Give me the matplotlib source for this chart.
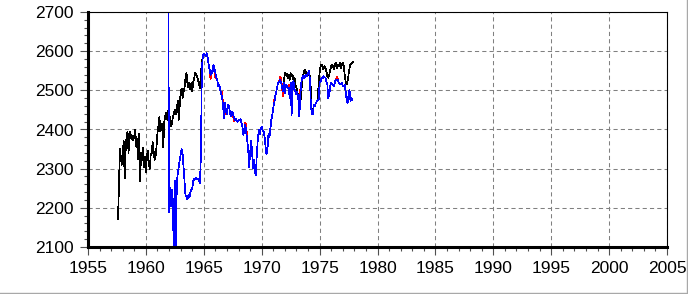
import numpy as np
import matplotlib
matplotlib.use("Agg")
import matplotlib.pyplot as plt
from matplotlib.lines import Line2D
from matplotlib.ticker import MultipleLocator

# ---- monthly series ----
# black series: Aug 1957 - Dec 1964
black_start = 1957 + 7 / 12
black_1957 = [
    2170, 2245, 2350, 2331, 2310,
    2340, 2370, 2275, 2345, 2385, 2395, 2340, 2395, 2390, 2375, 2385, 2372,
    2385, 2400, 2356, 2375, 2325, 2390, 2268, 2340, 2322, 2352, 2305, 2330,
    2290, 2330, 2345, 2315, 2300, 2335, 2340, 2368, 2345, 2322, 2330, 2356,
    2391, 2410, 2433, 2395, 2405, 2415, 2355, 2418, 2433, 2442, 2425, 2448,
    2415, 2432, 2408, 2416, 2433, 2440, 2450, 2440, 2450, 2474, 2425, 2460,
    2495, 2505, 2480, 2495, 2505, 2530, 2545, 2520, 2508, 2520, 2503, 2518,
    2498, 2520, 2530, 2545, 2540, 2535, 2525, 2515, 2506, 2545, 2570, 2588,
]

# blue series: Dec 1961 - Dec 1964 (first point is off the top of the chart)
blue_start = 1961 + 11 / 12
blue_1961 = [
    2950,
    2190, 2250, 2205, 2245, 2215, 2050, 2270, 2040, 2262, 2288, 2305, 2320,
    2335, 2350, 2338, 2305, 2268, 2232, 2228, 2222, 2232, 2226, 2238, 2245,
    2250, 2268, 2274, 2272, 2277, 2274, 2275, 2270, 2262, 2335, 2555, 2588,
]

# black and blue coincide: Jan 1965 - Dec 1971
common_start = 1965.0
common_1965 = [
    2592, 2592, 2587, 2595, 2583, 2566, 2553, 2540, 2549, 2545, 2566, 2557,
    2545, 2532, 2527, 2510, 2515, 2502, 2493, 2480, 2459, 2429, 2468, 2446,
    2438, 2463, 2459, 2446, 2433, 2446, 2442, 2433, 2425, 2427, 2423, 2420,
    2425, 2423, 2427, 2416, 2408, 2386, 2399, 2412, 2391, 2373, 2348, 2305,
    2340, 2372, 2345, 2301, 2322, 2290, 2284, 2340, 2375, 2400, 2388, 2400,
    2408, 2398, 2395, 2382, 2356, 2336, 2350, 2390, 2380, 2403, 2425, 2438,
    2455, 2468, 2485, 2495, 2508, 2519, 2522, 2527, 2520, 2510, 2497, 2520,
]

# red series: Jan 1965 - Dec 1976 (mostly hidden under blue)
red_start = 1965.0
red_1965 = [
    2592, 2592, 2587, 2595, 2583, 2566, 2553, 2528, 2549, 2545, 2566, 2557,
    2532, 2532, 2527, 2510, 2515, 2502, 2493, 2496, 2459, 2429, 2468, 2440,
    2438, 2463, 2459, 2446, 2440, 2446, 2442, 2422, 2425, 2427, 2423, 2420,
    2425, 2423, 2427, 2416, 2408, 2386, 2399, 2418, 2410, 2373, 2348, 2305,
    2340, 2372, 2345, 2301, 2322, 2290, 2284, 2340, 2375, 2400, 2388, 2400,
    2408, 2398, 2395, 2382, 2356, 2336, 2350, 2390, 2380, 2403, 2425, 2438,
    2455, 2475, 2485, 2495, 2508, 2519, 2522, 2535, 2532, 2510, 2485, 2520,
    2493, 2515, 2512, 2506, 2515, 2480, 2520, 2437, 2515, 2523, 2497, 2500,
    2489, 2495, 2476, 2433, 2500, 2519, 2532, 2536, 2530, 2538, 2540, 2535,
    2544, 2549, 2527, 2459, 2440, 2438, 2463, 2459, 2466, 2472, 2474, 2476,
    2519, 2523, 2532, 2530, 2536, 2534, 2532, 2523, 2515, 2480, 2489, 2510,
    2519, 2515, 2512, 2510, 2523, 2527, 2535, 2527, 2519, 2515, 2517, 2519,
]

# after Dec 1971 black and blue part ways
late_start = 1972.0
blue_1972 = [
    2493, 2515, 2512, 2506, 2506, 2480, 2520, 2437, 2515, 2523, 2497, 2500,
    2489, 2495, 2476, 2433, 2489, 2519, 2532, 2536, 2530, 2538, 2540, 2535,
    2544, 2549, 2527, 2459, 2440, 2438, 2463, 2459, 2466, 2472, 2474, 2476,
    2519, 2523, 2532, 2530, 2536, 2534, 2532, 2523, 2515, 2480, 2489, 2510,
    2519, 2515, 2512, 2510, 2523, 2527, 2527, 2527, 2519, 2515, 2517, 2519,
    2512, 2510, 2515, 2498, 2476, 2467, 2489, 2502, 2472, 2480, 2476,
]
black_1972 = [
    2544, 2540, 2542, 2532, 2540, 2527, 2544, 2536, 2540, 2523, 2532, 2515,
    2506, 2497, 2480, 2467, 2463, 2497, 2523, 2540, 2549, 2553, 2545, 2536,
    2545, 2540, 2535, 2500, 2440, 2438, 2463, 2459, 2466, 2472, 2474, 2519,
    2545, 2562, 2566, 2560, 2553, 2562, 2558, 2549, 2536, 2532, 2540, 2553,
    2562, 2566, 2560, 2553, 2566, 2570, 2557, 2566, 2562, 2570, 2557, 2566,
    2570, 2562, 2540, 2523, 2515, 2523, 2540, 2557, 2566, 2568, 2570, 2572,
]


def months(start, n):
    return start + np.arange(n) / 12.0


black_vals = black_1957 + common_1965 + black_1972
blue_vals = blue_1961 + common_1965 + blue_1972

fig = plt.figure(figsize=(6.88, 2.94), dpi=100)
ax = fig.add_axes([88 / 688, 47 / 294, 579 / 688, 235 / 294])

line_kw = dict(lw=0.5, antialiased=False)
ax.plot(months(black_start, len(black_vals)), black_vals, color="black", **line_kw)
ax.plot(months(red_start, len(red_1965)), red_1965, color="#ff0000", **line_kw)
ax.plot(months(blue_start, len(blue_vals)), blue_vals, color="#0000ff", **line_kw)

ax.set_xlim(1955, 2005)
ax.set_ylim(2100, 2700)
ax.xaxis.set_major_locator(MultipleLocator(5))
ax.xaxis.set_minor_locator(MultipleLocator(1))
ax.yaxis.set_major_locator(MultipleLocator(100))
ax.yaxis.set_minor_locator(MultipleLocator(20))

ax.grid(True, which="major", color="#808080", linestyle=(0, (4, 3)), linewidth=0.75)
ax.set_axisbelow(True)

ax.tick_params(which="major", direction="out", length=6, width=0.8, color="#505050",
               labelsize=12.5, pad=4)
ax.tick_params(which="minor", direction="out", length=3, width=0.8, color="#505050")
for lab in ax.get_xticklabels() + ax.get_yticklabels():
    lab.set_fontfamily("Liberation Sans")

ax.spines["left"].set_linewidth(2.2)
ax.spines["bottom"].set_linewidth(2.2)
ax.spines["top"].set_linewidth(0.8)
ax.spines["right"].set_linewidth(0.8)

# grey window edge on the right and bottom
fig.add_artist(Line2D([686.5 / 688, 686.5 / 688], [0, 1], transform=fig.transFigure,
                      color="#a8a8a8", lw=1.0))
fig.add_artist(Line2D([0, 1], [1.5 / 294, 1.5 / 294], transform=fig.transFigure,
                      color="#a8a8a8", lw=1.0))

fig.savefig("out.png", dpi=100)
